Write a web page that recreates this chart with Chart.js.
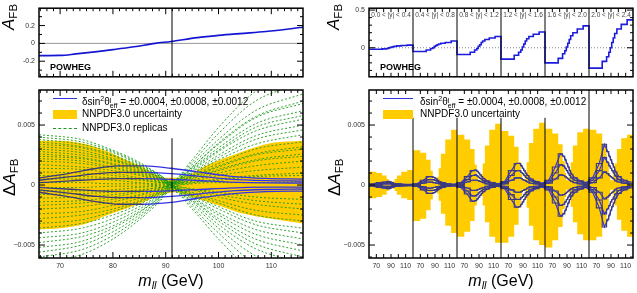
<!DOCTYPE html>
<html>
<head>
<meta charset="utf-8">
<script src="https://cdn.jsdelivr.net/npm/chart.js@4.4.0/dist/chart.umd.min.js"></script>
<style>
  body { margin: 0; width: 637px; height: 293px; position: relative; overflow: hidden; background: #fff;
         font-family: "Liberation Sans", Arial, sans-serif; }
  canvas { position: absolute; }
  .ytitle { position: absolute; white-space: nowrap; font-size: 17px; line-height: 17px;
            transform-origin: left top; transform: rotate(-90deg); }
  .xtitle { position: absolute; white-space: nowrap; font-size: 16px; line-height: 18px; transform: translateX(-50%); }
  sub { font-size: 0.68em; vertical-align: -0.3em; line-height: 0; }
  .pw { position: absolute; font-weight: bold; font-size: 9px; }
  .leg { position: absolute; font-size: 10px; line-height: 12px; white-space: nowrap; }
  .ss { display: inline-block; vertical-align: -0.35em; line-height: 0.75em; font-size: 0.7em; text-align: left; }
  .rap { position: absolute; font-size: 6.5px; color: #444; white-space: nowrap; transform: translateX(-50%); }
</style>
</head>
<body>
<canvas id="lt" width="320" height="85" style="left:0;top:0"></canvas>
<canvas id="lb" width="320" height="213" style="left:0;top:80px"></canvas>
<canvas id="rt" width="317" height="85" style="left:320px;top:0"></canvas>
<canvas id="rb" width="317" height="213" style="left:320px;top:80px"></canvas>

<div class="ytitle" style="left:0px;top:30px"><i>A</i><sub>FB</sub></div>
<div class="ytitle" style="left:1px;top:196px">Δ<i>A</i><sub>FB</sub></div>
<div class="ytitle" style="left:325px;top:30px"><i>A</i><sub>FB</sub></div>
<div class="ytitle" style="left:326px;top:196px">Δ<i>A</i><sub>FB</sub></div>
<div class="xtitle" style="left:171px;top:272px"><i>m</i><sub><i>ll</i></sub> (GeV)</div>
<div class="xtitle" style="left:501px;top:272px"><i>m</i><sub><i>ll</i></sub> (GeV)</div>
<div class="pw" style="left:50px;top:62px">POWHEG</div>
<div class="pw" style="left:380px;top:62px">POWHEG</div>

<!-- legends -->
<div class="leg" style="left:53px;top:98px;width:24px;border-top:1.5px solid #3030e0"></div>
<div class="leg" style="left:82px;top:93px">δsin<sup style="font-size:0.7em">2</sup>θ<span class="ss">l<br>eff</span> = ±0.0004, ±0.0008, ±0.0012</div>
<div class="leg" style="left:53px;top:110px;width:24px;height:9px;background:#ffcc00"></div>
<div class="leg" style="left:82px;top:108px">NNPDF3.0 uncertainty</div>
<div class="leg" style="left:53px;top:128px;width:24px;border-top:1px dashed #1a9a1a"></div>
<div class="leg" style="left:82px;top:122px">NNPDF3.0 replicas</div>

<div class="leg" style="left:383px;top:98px;width:30px;border-top:1.5px solid #3030e0"></div>
<div class="leg" style="left:420px;top:93px">δsin<sup style="font-size:0.7em">2</sup>θ<span class="ss">l<br>eff</span> = ±0.0004, ±0.0008, ±0.0012</div>
<div class="leg" style="left:383px;top:110px;width:30px;height:9px;background:#ffcc00"></div>
<div class="leg" style="left:420px;top:108px">NNPDF3.0 uncertainty</div>

<script>
// ---------------- left: integrated over rapidity ----------------
const powhegMass = [66, 70, 73, 77, 80, 84, 88, 91, 96, 100, 104, 109, 116];
const powhegAfb = [-0.137, -0.135, -0.118, -0.092, -0.07, -0.038, 0.0, 0.022, 0.065, 0.09, 0.11, 0.133, 0.181];

// yellow band (units of 1e-3)
const bandMass = [66, 70, 75, 79, 83, 86, 88, 90, 92, 94, 98, 104, 110, 116];
const bandUp = [3.7, 3.7, 3.4, 2.8, 2.0, 1.4, 0.9, 0.6, 0.6, 0.8, 1.7, 2.7, 3.5, 3.7];
const bandDn = [-3.7, -3.6, -3.2, -2.5, -1.9, -1.4, -1.0, -0.7, -0.6, -0.9, -1.4, -2.3, -2.8, -3.2];

// sin2theta shifts (units of 1e-3)
const shiftMass = [66, 72, 77, 81, 86, 91, 96, 102, 109, 116];
const dA12up = [0.6, 1.0, 1.4, 1.6, 1.6, 1.4, 1.1, 0.75, 0.55, 0.5];
const dA08up = [0.4, 0.7, 0.95, 1.05, 1.05, 0.95, 0.75, 0.5, 0.37, 0.33];
const dA04up = [0.2, 0.35, 0.48, 0.53, 0.53, 0.48, 0.38, 0.25, 0.18, 0.17];
const dA04dn = [-0.2, -0.35, -0.48, -0.53, -0.53, -0.48, -0.38, -0.25, -0.18, -0.17];
const dA08dn = [-0.4, -0.7, -0.95, -1.05, -1.05, -0.95, -0.75, -0.5, -0.37, -0.33];
const dA12dn = [-0.6, -1.0, -1.4, -1.6, -1.6, -1.45, -1.1, -0.75, -0.55, -0.5];

// NNPDF replicas (units of 1e-3)
const replicaMass = [66, 74, 80, 85, 89, 91, 95, 100, 107, 116];
const replicas = [
  [4.2, 3.8, 2.9, 1.9, 0.8, 0.3, 2.1, 4.8, 7.8, 9.5],
  [4.0, 3.6, 2.8, 1.8, 0.8, 0.1, -1.8, -4.0, -6.6, -8.0],
  [3.8, 3.4, 2.7, 1.7, 0.8, 0.2, 1.5, 3.5, 5.7, 7.0],
  [3.6, 3.2, 2.5, 1.6, 0.7, 0.2, 0.7, 1.5, 2.5, 3.0],
  [3.4, 3.1, 2.4, 1.5, 0.7, 0.0, -1.0, -2.3, -3.7, -4.5],
  [3.2, 2.9, 2.2, 1.4, 0.6, 0.3, 1.9, 4.3, 7.0, 8.5],
  [3.0, 2.7, 2.1, 1.4, 0.6, 0.2, 1.2, 2.8, 4.5, 5.5],
  [2.8, 2.5, 2.0, 1.3, 0.6, 0.0, -0.6, -1.3, -2.1, -2.5],
  [2.6, 2.3, 1.8, 1.2, 0.5, 0.1, 0.3, 0.8, 1.2, 1.5],
  [2.4, 2.2, 1.7, 1.1, 0.5, 0.2, 1.4, 3.1, 5.1, 6.2],
  [2.2, 2.0, 1.5, 1.0, 0.4, -0.1, -1.4, -3.3, -5.3, -6.5],
  [2.0, 1.8, 1.4, 0.9, 0.4, 0.1, 0.9, 2.1, 3.4, 4.2],
  [1.7, 1.5, 1.2, 0.8, 0.3, 0.0, -0.3, -0.6, -1.0, -1.2],
  [1.4, 1.3, 1.0, 0.6, 0.3, 0.1, 0.6, 1.3, 2.1, 2.6],
  [1.1, 1.0, 0.8, 0.5, 0.2, 0.2, 1.7, 3.8, 6.2, 7.6],
  [0.8, 0.7, 0.6, 0.4, 0.2, -0.1, -0.8, -1.8, -3.0, -3.6],
  [0.5, 0.5, 0.4, 0.2, 0.1, 0.1, 0.8, 1.8, 3.0, 3.6],
  [0.2, 0.2, 0.1, 0.1, 0.0, -0.1, -1.2, -2.8, -4.5, -5.5],
  [-0.2, -0.2, -0.1, -0.1, 0.0, 0.1, 1.1, 2.5, 4.1, 5.0],
  [-0.5, -0.5, -0.4, -0.2, -0.1, -0.1, -0.4, -1.0, -1.6, -2.0],
  [-0.8, -0.7, -0.6, -0.4, -0.2, 0.0, 0.4, 1.0, 1.6, 2.0],
  [-1.1, -1.0, -0.8, -0.5, -0.2, -0.2, -1.6, -3.6, -5.9, -7.2],
  [-1.4, -1.3, -1.0, -0.6, -0.3, 0.0, 0.2, 0.4, 0.7, 0.8],
  [-1.7, -1.5, -1.2, -0.8, -0.3, 0.1, 1.0, 2.3, 3.8, 4.6],
  [-2.0, -1.8, -1.4, -0.9, -0.4, -0.2, -0.9, -2.0, -3.3, -4.0],
  [-2.4, -2.2, -1.7, -1.1, -0.5, 0.0, 0.7, 1.6, 2.6, 3.2],
  [-2.8, -2.5, -2.0, -1.3, -0.6, -0.2, -0.7, -1.5, -2.5, -3.0],
  [-3.2, -2.9, -2.2, -1.4, -0.6, 0.0, 1.5, 3.4, 5.6, 6.8],
  [-3.6, -3.2, -2.5, -1.6, -0.7, -0.3, -1.1, -2.5, -4.1, -5.0],
  [-4.0, -3.6, -2.8, -1.8, -0.8, -0.2, 0.2, 0.5, 0.8, 1.0],
  [-4.4, -4.0, -3.1, -2.0, -0.9, -0.4, -2.0, -4.5, -7.4, -9.0],
  [-4.8, -4.3, -3.4, -2.2, -1.0, -0.2, 0.5, 1.2, 2.0, 2.4],
  [-5.2, -4.7, -3.6, -2.3, -1.0, -0.4, -0.4, -0.8, -1.3, -1.6],
  [-5.6, -5.0, -3.9, -2.5, -1.1, -0.1, 1.3, 2.9, 4.8, 5.8],
  [-6.0, -5.4, -4.2, -2.7, -1.2, -0.5, -1.3, -3.0, -4.9, -6.0],
  [-6.4, -5.8, -4.5, -2.9, -1.3, -0.3, 0.1, 0.2, 0.2, 0.3]
];

// ---------------- right: in bins of |y| ----------------
const rapidityBins = ['0.0 < |y| < 0.4', '0.4 < |y| < 0.8', '0.8 < |y| < 1.2', '1.2 < |y| < 1.6', '1.6 < |y| < 2.0', '2.0 < |y| < 2.4'];
const massEdges = [60, 70, 78, 84, 87, 89, 91, 93, 95, 98, 104, 112, 120];
const afbBins = [
  [-0.02, -0.02, -0.015, -0.01, 0.0, 0.005, 0.01, 0.015, 0.02, 0.025, 0.03, 0.035],
  [-0.05, -0.05, -0.03, -0.01, 0.0, 0.02, 0.03, 0.04, 0.05, 0.06, 0.07, 0.09],
  [-0.09, -0.09, -0.06, -0.03, -0.01, 0.02, 0.04, 0.07, 0.09, 0.11, 0.13, 0.15],
  [-0.15, -0.15, -0.10, -0.06, -0.03, 0.01, 0.05, 0.09, 0.12, 0.15, 0.18, 0.21],
  [-0.2, -0.2, -0.14, -0.08, -0.04, 0.01, 0.06, 0.11, 0.16, 0.2, 0.25, 0.29],
  [-0.27, -0.27, -0.18, -0.12, -0.06, 0.0, 0.07, 0.13, 0.19, 0.25, 0.31, 0.37]
];
// units of 1e-3
const pdfUp = [
  [1.1, 1.0, 0.8, 0.5, 0.25, 0.1, 0.15, 0.3, 0.5, 0.8, 1.1, 1.25],
  [2.9, 2.7, 2.1, 1.2, 0.5, 0.2, 0.3, 0.7, 1.4, 2.6, 3.8, 4.6],
  [4.2, 3.8, 3.0, 1.7, 0.8, 0.3, 0.4, 0.9, 1.8, 3.3, 4.6, 5.1],
  [4.5, 4.1, 3.2, 1.9, 0.9, 0.4, 0.4, 1.0, 1.9, 3.5, 4.7, 5.2],
  [4.7, 4.3, 3.4, 2.0, 1.0, 0.4, 0.4, 1.0, 1.9, 3.3, 4.4, 4.7],
  [4.6, 4.3, 3.4, 2.0, 1.0, 0.4, 0.4, 1.0, 1.8, 3.0, 3.9, 4.2]
];
const pdfDn = [
  [-1.1, -1.0, -0.8, -0.5, -0.25, -0.1, -0.15, -0.3, -0.5, -0.8, -1.1, -1.25],
  [-3.0, -2.8, -2.1, -1.2, -0.5, -0.2, -0.3, -0.7, -1.3, -2.4, -3.4, -4.0],
  [-4.3, -3.9, -3.0, -1.7, -0.8, -0.3, -0.4, -0.9, -1.7, -3.1, -4.3, -4.8],
  [-4.8, -4.3, -3.3, -1.9, -0.9, -0.4, -0.4, -1.0, -1.9, -3.4, -4.6, -5.0],
  [-5.2, -4.6, -3.5, -2.0, -1.0, -0.4, -0.4, -1.0, -1.8, -3.1, -4.1, -4.6],
  [-4.6, -4.3, -3.4, -2.0, -1.0, -0.4, -0.4, -0.9, -1.7, -2.9, -3.8, -4.3]
];
const binUp12 = [
  [0.1, 0.2, 0.25, 0.3, 0.3, 0.25, 0.2, 0.15, 0.1, 0.1, 0.05, 0.05],
  [0.1, 0.4, 0.7, 0.7, 0.65, 0.6, 0.5, 0.4, 0.3, 0.2, 0.1, 0.05],
  [0.2, 0.7, 1.2, 1.25, 1.15, 1.0, 0.85, 0.7, 0.55, 0.35, 0.2, 0.1],
  [0.3, 1.2, 1.8, 1.8, 1.6, 1.4, 1.2, 1.0, 0.8, 0.5, 0.3, 0.15],
  [0.4, 1.5, 2.6, 2.4, 2.1, 1.8, 1.5, 1.2, 0.9, 0.6, 0.35, 0.2],
  [0.6, 1.8, 3.4, 2.8, 2.4, 2.1, 1.8, 1.5, 1.1, 0.7, 0.4, 0.25]
];
const binUp08 = [
  [0.05, 0.15, 0.15, 0.2, 0.2, 0.15, 0.15, 0.1, 0.05, 0.05, 0.05, 0.0],
  [0.05, 0.25, 0.45, 0.45, 0.45, 0.4, 0.35, 0.25, 0.2, 0.15, 0.05, 0.05],
  [0.15, 0.45, 0.8, 0.85, 0.75, 0.65, 0.55, 0.45, 0.35, 0.25, 0.15, 0.05],
  [0.2, 0.8, 1.2, 1.2, 1.05, 0.95, 0.8, 0.65, 0.55, 0.35, 0.2, 0.1],
  [0.25, 1.0, 1.7, 1.6, 1.4, 1.2, 1.0, 0.8, 0.6, 0.4, 0.25, 0.15],
  [0.4, 1.2, 2.3, 1.9, 1.6, 1.4, 1.2, 1.0, 0.75, 0.45, 0.25, 0.15]
];
const binUp04 = [
  [0.0, 0.05, 0.1, 0.1, 0.1, 0.1, 0.05, 0.05, 0.05, 0.0, 0.0, 0.0],
  [0.05, 0.15, 0.25, 0.25, 0.2, 0.2, 0.15, 0.15, 0.1, 0.05, 0.05, 0.0],
  [0.05, 0.25, 0.4, 0.4, 0.4, 0.35, 0.3, 0.25, 0.2, 0.1, 0.05, 0.05],
  [0.1, 0.4, 0.6, 0.6, 0.55, 0.45, 0.4, 0.35, 0.25, 0.15, 0.1, 0.05],
  [0.15, 0.5, 0.85, 0.8, 0.7, 0.6, 0.5, 0.4, 0.3, 0.2, 0.1, 0.05],
  [0.2, 0.6, 1.1, 0.95, 0.8, 0.7, 0.6, 0.5, 0.35, 0.25, 0.15, 0.1]
];
const binDn04 = [
  [0.0, -0.05, -0.1, -0.1, -0.1, -0.1, -0.05, -0.05, -0.05, 0.0, 0.0, 0.0],
  [-0.05, -0.15, -0.25, -0.25, -0.2, -0.2, -0.15, -0.15, -0.1, -0.05, -0.05, 0.0],
  [-0.05, -0.25, -0.45, -0.45, -0.4, -0.35, -0.3, -0.25, -0.2, -0.1, -0.05, -0.05],
  [-0.1, -0.4, -0.6, -0.6, -0.55, -0.45, -0.4, -0.35, -0.25, -0.15, -0.1, -0.05],
  [-0.15, -0.5, -0.85, -0.8, -0.7, -0.6, -0.5, -0.4, -0.3, -0.2, -0.1, -0.05],
  [-0.2, -0.6, -1.15, -1.0, -0.85, -0.7, -0.6, -0.5, -0.35, -0.25, -0.15, -0.1]
];
const binDn08 = [
  [-0.05, -0.15, -0.15, -0.2, -0.2, -0.15, -0.15, -0.1, -0.05, -0.05, -0.05, 0.0],
  [-0.05, -0.25, -0.45, -0.45, -0.45, -0.4, -0.35, -0.25, -0.2, -0.15, -0.05, -0.05],
  [-0.15, -0.5, -0.9, -0.9, -0.8, -0.65, -0.55, -0.45, -0.35, -0.25, -0.15, -0.05],
  [-0.2, -0.8, -1.2, -1.2, -1.05, -0.95, -0.8, -0.65, -0.55, -0.35, -0.2, -0.1],
  [-0.25, -1.0, -1.7, -1.6, -1.4, -1.2, -1.0, -0.8, -0.6, -0.4, -0.25, -0.15],
  [-0.4, -1.25, -2.4, -2.0, -1.7, -1.4, -1.2, -1.0, -0.75, -0.45, -0.25, -0.15]
];
const binDn12 = [
  [-0.1, -0.2, -0.25, -0.3, -0.3, -0.25, -0.2, -0.15, -0.1, -0.1, -0.05, -0.05],
  [-0.1, -0.4, -0.7, -0.7, -0.65, -0.6, -0.5, -0.4, -0.3, -0.2, -0.1, -0.05],
  [-0.2, -0.75, -1.35, -1.3, -1.15, -1.0, -0.85, -0.7, -0.55, -0.35, -0.2, -0.1],
  [-0.3, -1.2, -1.85, -1.8, -1.6, -1.4, -1.2, -1.0, -0.8, -0.5, -0.3, -0.15],
  [-0.4, -1.5, -2.6, -2.4, -2.1, -1.8, -1.5, -1.2, -0.9, -0.6, -0.35, -0.2],
  [-0.6, -1.9, -3.5, -2.9, -2.5, -2.1, -1.8, -1.5, -1.1, -0.7, -0.4, -0.25]
];

const zMass = 91.19;
const YELLOW = '#ffcc00', NAVY = '#3a3a7c', BLUE = '#3434e6', GREEN = '#1a9a1a';
Chart.defaults.font.family = '"Liberation Sans", Arial, sans-serif';

// frame, inward ticks and reference lines, drawn the ROOT way
function framePlugin(cfg) {
  return {
    id: 'frame',
    beforeDatasetsDraw(chart) {
      if (!cfg.zeroColor) return;
      const { ctx, chartArea: a, scales: { y } } = chart;
      const py = y.getPixelForValue(0);
      ctx.save();
      ctx.strokeStyle = cfg.zeroColor; ctx.lineWidth = 1; ctx.setLineDash(cfg.zeroDash || []);
      ctx.beginPath(); ctx.moveTo(a.left, py); ctx.lineTo(a.right, py); ctx.stroke();
      ctx.restore();
    },
    afterDatasetsDraw(chart) {
      const { ctx, chartArea: a, scales: { x, y } } = chart;
      const seg = (x0, y0, x1, y1) => { ctx.beginPath(); ctx.moveTo(x0, y0); ctx.lineTo(x1, y1); ctx.stroke(); };
      ctx.save();
      ctx.strokeStyle = '#000';
      ctx.lineWidth = 1;
      (cfg.vlines || []).forEach(([v, top]) => {
        const px = x.getPixelForValue(v);
        seg(px, top == null ? a.top : y.getPixelForValue(top), px, a.bottom);
      });
      (cfg.xTicks || []).forEach(([v, len]) => {
        const px = x.getPixelForValue(v);
        seg(px, a.bottom, px, a.bottom - len); seg(px, a.top, px, a.top + len);
      });
      (cfg.yTicks || []).forEach(([v, len]) => {
        const py = y.getPixelForValue(v);
        seg(a.left, py, a.left + len, py); seg(a.right, py, a.right - len, py);
      });
      ctx.lineWidth = 1.5;
      ctx.strokeRect(a.left, a.top, a.width, a.height);
      ctx.restore();
    }
  };
}

function yAxis(min, max, tickVals, fmt, width) {
  return {
    type: 'linear', min, max,
    grid: { display: false, drawTicks: false }, border: { display: false },
    ticks: { font: { size: 7 }, color: '#333', padding: 4, callback: fmt },
    afterBuildTicks: s => { s.ticks = tickVals.map(v => ({ value: v })); },
    afterFit: s => { s.width = width; }
  };
}
function xAxis(min, max, tickVals, fmt, show) {
  const axis = {
    type: 'linear', min, max, display: show,
    grid: { display: false, drawTicks: false }, border: { display: false },
    ticks: { font: { size: 7 }, color: '#333', padding: 4, maxRotation: 0, autoSkip: false, callback: fmt },
    afterBuildTicks: s => { s.ticks = tickVals.map(v => ({ value: v })); }
  };
  if (show) axis.afterFit = s => { s.height = 35; };
  return axis;
}
function baseOptions(padding, scales) {
  return {
    animation: false, responsive: false, events: [],
    layout: { padding },
    elements: { point: { radius: 0 } },
    plugins: { legend: { display: false }, tooltip: { enabled: false } },
    scales
  };
}
const fmtSmall = v => v === 0 ? '0' : (v < 0 ? '\u2212' : '') + (Math.abs(v) / 1000).toFixed(3);
const pts = (xs, ys) => xs.map((x, i) => ({ x, y: ys[i] }));

// tick positions
const massTicks = [];
for (let m = 66.25; m < 116; m += 1.25) massTicks.push([m, Math.abs(m % 10) < 1e-6 ? 6 : 3]);
const smallYTicks = [];
for (let v = -6; v <= 7; v += 1) smallYTicks.push([v, v % 5 === 0 ? 6 : 3]);

// ---- left top
new Chart(document.getElementById('lt'), {
  type: 'line',
  data: { datasets: [{ data: pts(powhegMass, powhegAfb), borderColor: '#1414d4', borderWidth: 1.6, cubicInterpolationMode: 'monotone' }] },
  options: baseOptions({ top: 6, right: 17, bottom: 8, left: 0 }, {
    x: xAxis(66, 116, [70, 80, 90, 100, 110], null, false),
    y: yAxis(-0.375, 0.395, [-0.2, 0, 0.2], v => v === 0 ? '0' : v.toFixed(1), 39)
  }),
  plugins: [framePlugin({
    zeroColor: '#999',
    vlines: [[zMass, null]],
    xTicks: massTicks,
    yTicks: [[-0.3, 3], [-0.2, 6], [-0.1, 3], [0, 6], [0.1, 3], [0.2, 6], [0.3, 3]]
  })]
});

// ---- left bottom
const lbSets = [
  { data: pts(bandMass, bandUp), fill: 'origin', backgroundColor: YELLOW, borderWidth: 0, cubicInterpolationMode: 'monotone', order: 5 },
  { data: pts(bandMass, bandDn), fill: 'origin', backgroundColor: YELLOW, borderWidth: 0, cubicInterpolationMode: 'monotone', order: 5 }
];
replicas.forEach(r => lbSets.push({
  data: pts(replicaMass, r), borderColor: GREEN, borderWidth: 0.9, borderDash: [2, 2],
  cubicInterpolationMode: 'monotone', order: 3
}));
[dA12up, dA08up, dA04up, dA04dn, dA08dn, dA12dn].forEach(s => lbSets.push({
  data: pts(shiftMass, s), borderWidth: 1.3, borderColor: BLUE, cubicInterpolationMode: 'monotone', order: 1,
  segment: { borderColor: c => c.p0.parsed.x < 84 ? NAVY : BLUE }
}));
new Chart(document.getElementById('lb'), {
  type: 'line',
  data: { datasets: lbSets },
  options: baseOptions({ top: 10, right: 17, bottom: 0, left: 0 }, {
    x: xAxis(66, 116, [70, 80, 90, 100, 110], v => String(v), true),
    y: yAxis(-6.08, 7.92, [-5, 0, 5], fmtSmall, 39)
  }),
  plugins: [framePlugin({ vlines: [[zMass, 3.9]], xTicks: massTicks, yTicks: smallYTicks })]
});

// ---- right panels: rapidity bin k occupies x in [60k, 60k+60]
const xOf = (k, m) => 60 * k + (m - 60);
// one point per lower bin edge, drawn with stepped:'before' so each value spans its own bin
function stepPoints(vals) {
  const out = [];
  vals.forEach((row, k) => row.forEach((v, i) => out.push({ x: xOf(k, massEdges[i]), y: v })));
  const last = vals[vals.length - 1];
  out.push({ x: 60 * vals.length, y: last[last.length - 1] });
  return out;
}
function centerPoints(vals) {
  const out = [];
  vals.forEach((row, k) => row.forEach((v, i) => out.push({ x: xOf(k, (massEdges[i] + massEdges[i + 1]) / 2), y: v })));
  return out;
}
const subTicks = [], subLabels = [];
for (let k = 0; k < 6; k++) {
  for (let m = 70; m <= 110; m += 10) subTicks.push([xOf(k, m), 4]);
  [70, 90, 110].forEach(m => subLabels.push(xOf(k, m)));
}

new Chart(document.getElementById('rt'), {
  type: 'line',
  data: { datasets: [{ data: stepPoints(afbBins), stepped: 'before', borderColor: '#1c1cdc', borderWidth: 1.6 }] },
  options: baseOptions({ top: 6, right: 4, bottom: 8, left: 0 }, {
    x: xAxis(0, 360, subLabels, null, false),
    y: yAxis(-0.385, 0.525, [0, 0.5], v => v === 0 ? '0' : v.toFixed(1), 49)
  }),
  plugins: [framePlugin({
    zeroColor: '#888', zeroDash: [1, 2],
    vlines: [[60, null], [120, null], [180, null], [240, null], [300, null]],
    xTicks: subTicks,
    yTicks: [[-0.3, 3], [-0.2, 3], [-0.1, 3], [0, 6], [0.1, 3], [0.2, 3], [0.3, 3], [0.4, 3], [0.5, 6]]
  })]
});

const rbSets = [
  { data: stepPoints(pdfUp), stepped: 'before', fill: 'origin', backgroundColor: YELLOW, borderWidth: 0, order: 5 },
  { data: stepPoints(pdfDn), stepped: 'before', fill: 'origin', backgroundColor: YELLOW, borderWidth: 0, order: 5 }
];
const shiftBins = [binUp12, binUp08, binUp04, binDn04, binDn08, binDn12];
shiftBins.forEach(s => rbSets.push({ data: centerPoints(s), borderColor: BLUE, borderWidth: 1.2, order: 2 }));
shiftBins.forEach(s => rbSets.push({ data: stepPoints(s), stepped: 'before', borderColor: NAVY, borderWidth: 1.1, order: 1 }));

new Chart(document.getElementById('rb'), {
  type: 'line',
  data: { datasets: rbSets },
  options: baseOptions({ top: 10, right: 4, bottom: 0, left: 0 }, {
    x: xAxis(0, 360, subLabels, v => String(60 + (v % 60)), true),
    y: yAxis(-6.08, 7.92, [-5, 0, 5], fmtSmall, 49)
  }),
  plugins: [framePlugin({
    zeroColor: '#e0a000', zeroDash: [1, 2],
    vlines: [[60, 5.6], [120, 5.6], [180, 5.6], [240, 5.6], [300, null]],
    xTicks: subTicks, yTicks: smallYTicks
  })]
});

// rapidity bin labels, centred in each sub-panel of the top right chart
const rtChart = Chart.getChart('rt');
rapidityBins.forEach((txt, k) => {
  const d = document.createElement('div');
  d.className = 'rap';
  d.textContent = txt;
  d.style.left = (320 + rtChart.scales.x.getPixelForValue(xOf(k, 90))) + 'px';
  d.style.top = '11px';
  document.body.appendChild(d);
});
</script>
</body>
</html>
